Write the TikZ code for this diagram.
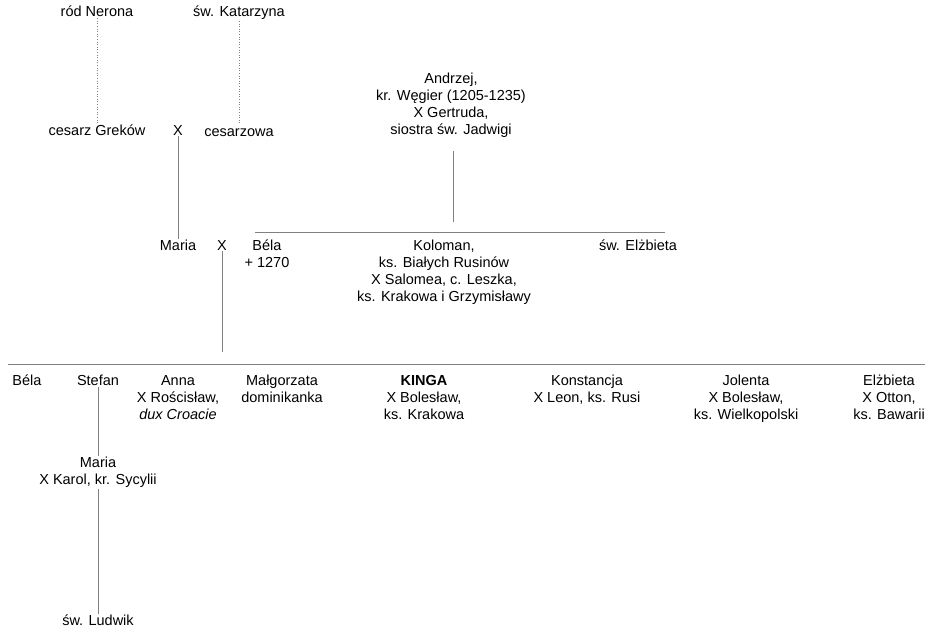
\documentclass[tikz,border=0pt]{standalone}
\usepackage{fontspec}
\setmainfont{Liberation Sans}
\usetikzlibrary{positioning}

\tikzset{
	person/.style={anchor=north, align=center, inner sep=1pt,
		font=\fontsize{14.5}{17}\selectfont},
	tie/.style={draw=black!50, line width=0.6pt},
	legend/.style={tie, dotted, line width=0.9pt}
}

\begin{document}
\begin{tikzpicture}[x=1pt, y=-1pt]
		\useasboundingbox (0,0) rectangle (925,631);

		% ancestors
		\node[person] (nero) at (97,5) {ród Nerona};
		\node[person] (katarzyna) at (239,5) {św. Katarzyna};
		\node[person] (cesarz) at (97,124) {cesarz Greków};
		\node[person] (x1) at (178,124) {X};
		\node[person] (cesarzowa) at (239,127) {cesarzowa};
		\node[person] (andrzej) at (451,72) {Andrzej,\\ kr. Węgier (1205-1235)\\ X Gertruda,\\ siostra św. Jadwigi};

		% second row
		\node[person] (maria) at (178,239) {Maria};
		\node[person] (x2) at (222,239) {X};
		\node[person] (bela) at (267,239) {Béla\\ + 1270};
		\node[person] (koloman) at (444,239) {Koloman,\\ ks. Białych Rusinów\\ X Salomea, c. Leszka,\\ ks. Krakowa i Grzymisławy};
		\node[person] (elzbieta) at (638,239) {św. Elżbieta};

		% children of Bela
		\node[person] (bela2) at (27,374) {Béla};
		\node[person] (stefan) at (98,374) {Stefan};
		\node[person] (anna) at (178,374) {Anna\\ X Rościsław,\\ \textit{dux Croacie}};
		\node[person] (malgorzata) at (282,374) {Małgorzata\\ dominikanka};
		\node[person] (kinga) at (424,374) {\textbf{KINGA}\\ X Bolesław,\\ ks. Krakowa};
		\node[person] (konstancja) at (587,374) {Konstancja\\ X Leon, ks. Rusi};
		\node[person] (jolenta) at (746,374) {Jolenta\\ X Bolesław,\\ ks. Wielkopolski};
		\node[person] (elzbieta2) at (889,374) {Elżbieta\\ X Otton,\\ ks. Bawarii};

		% descendants of Stefan
		\node[person] (maria2) at (98,456) {Maria\\ X Karol, kr. Sycylii};
		\node[person] (ludwik) at (98,614) {św. Ludwik};

		\coordinate (rowA-l) at (255,232);
		\coordinate (rowA-r) at (665,232);
		\coordinate (rowB-l) at (8,364);
		\coordinate (rowB-r) at (925,364);

		\draw[legend] (nero.south) -- (nero.south |- cesarz.north);
		\draw[legend] (katarzyna.south) -- (katarzyna.south |- cesarz.north);
		\draw[tie] (x1.south) -- (maria.north);
		\draw[tie] ([xshift=2pt]andrzej.south) ++(0,12) -- ([xshift=2pt,yshift=10pt]andrzej.south |- rowA-l);
		\draw[tie] (rowA-l) -- (rowA-r);
		\draw[tie] (x2.south) -- ([yshift=12pt]x2.south |- rowB-l);
		\draw[tie] (rowB-l) -- (rowB-r);
		\draw[tie] (stefan.south) -- (maria2.north);
		\draw[tie] (maria2.south) -- (ludwik.north);
\end{tikzpicture}
\end{document}
